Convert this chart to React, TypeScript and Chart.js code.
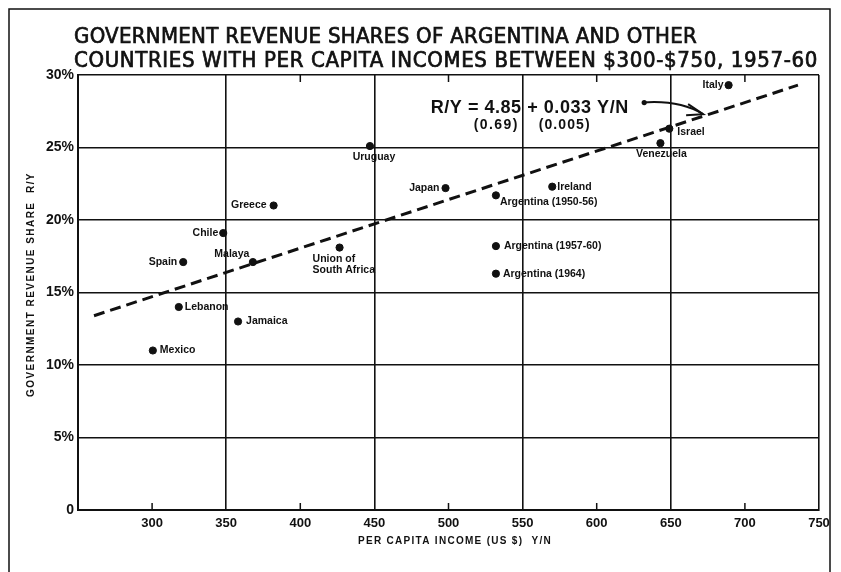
import React, { useEffect, useRef } from "react";
import { Chart, registerables } from "chart.js";

Chart.register(...registerables);

// ---- data ----
const countries = [
  "Mexico", "Spain", "Lebanon", "Chile", "Jamaica", "Malaya", "Greece",
  "Union of\nSouth Africa", "Uruguay", "Japan", "Argentina (1950-56)",
  "Argentina (1957-60)", "Argentina (1964)", "Ireland", "Venezuela", "Israel", "Italy",
];
const incomes = [300.5, 321, 318, 348, 358, 368, 382, 426.5, 447, 498, 532, 532, 532, 570, 643, 649, 689];
const shares = [11.0, 17.1, 14.0, 19.1, 13.0, 17.1, 21.0, 18.1, 25.1, 22.2, 21.7, 18.2, 16.3, 22.3, 25.3, 26.3, 29.3];

// regression line end points (as drawn)
const fitX = [260.8, 735.8];
const fitY = [13.4, 29.3];

const xTickValues = [300, 350, 400, 450, 500, 550, 600, 650, 700, 750];
const xGridValues = [350, 450, 550, 650, 750];
const xMinorTop = [400, 500, 600, 700];
const xMinorBottom = [300, 400, 500, 600, 700];
const yTickLabels: Record<number, string> = { 0: "0", 5: "5%", 10: "10%", 15: "15%", 20: "20%", 25: "25%", 30: "30%" };

const titleLines = [
  "GOVERNMENT REVENUE SHARES OF ARGENTINA AND OTHER",
  "COUNTRIES WITH PER CAPITA INCOMES BETWEEN $300-$750, 1957-60",
];
const xTitle = "PER CAPITA INCOME (US $)  Y/N";
const yTitle = "GOVERNMENT REVENUE SHARE  R/Y";
const equation = "R/Y = 4.85 + 0.033 Y/N";
const stdErrors = ["(0.69)", "(0.005)"];

// ---- label placement (style, pixels relative to the point) ----
const labelPlacement: [number, number, CanvasTextAlign][] = [
  [7, 0, "left"], // Mexico
  [-6, 0, "right"], // Spain
  [6, 0, "left"], // Lebanon
  [-5, 0, "right"], // Chile
  [8, 0, "left"], // Jamaica
  [-21, -8, "center"], // Malaya
  [-7, 0, "right"], // Greece
  [-27, 12, "left"], // Union of South Africa
  [4, 11, "center"], // Uruguay
  [-6, 0, "right"], // Japan
  [4, 7, "left"], // Argentina 1950-56
  [8, 0, "left"], // Argentina 1957-60
  [7, 0, "left"], // Argentina 1964
  [5, 0, "left"], // Ireland
  [1, 11, "center"], // Venezuela
  [8, 3, "left"], // Israel
  [-5, 0, "right"], // Italy
];

const FONT = '"Liberation Sans", Arial, sans-serif';
const TITLE_FONT = '"DejaVu Sans Condensed", "Liberation Sans Narrow", "Liberation Sans", sans-serif';

function fitText(ctx: CanvasRenderingContext2D, text: string, x: number, y: number, width: number, stroke = 0) {
  ctx.letterSpacing = "0px";
  const w = ctx.measureText(text).width;
  const ls = (width - w) / text.length;
  ctx.letterSpacing = ls + "px";
  ctx.textAlign = "left";
  ctx.fillText(text, x, y);
  if (stroke > 0) {
    ctx.lineWidth = stroke;
    ctx.strokeText(text, x, y);
  }
  ctx.letterSpacing = "0px";
}

const decorPlugin = {
  id: "decor",
  afterDraw(chart: any) {
    const ctx: CanvasRenderingContext2D = chart.ctx;
    const xs = chart.scales.x;
    const ys = chart.scales.y;
    const ca = chart.chartArea;
    ctx.save();
    ctx.fillStyle = "#111";
    ctx.strokeStyle = "#111";

    // outer frame
    ctx.lineWidth = 1.5;
    ctx.beginPath();
    ctx.moveTo(9, 572);
    ctx.lineTo(9, 9);
    ctx.lineTo(830, 9);
    ctx.lineTo(830, 572);
    ctx.stroke();

    // title
    ctx.textBaseline = "alphabetic";
    ctx.font = `22px ${TITLE_FONT}`;
    fitText(ctx, titleLines[0], 74, 43, 623, 0.7);
    fitText(ctx, titleLines[1], 74, 67, 744, 0.7);

    // axis titles
    ctx.font = `bold 10px ${FONT}`;
    ctx.textBaseline = "middle";
    fitText(ctx, xTitle, 358, 541, 194);
    ctx.save();
    ctx.translate(31, 285);
    ctx.rotate(-Math.PI / 2);
    fitText(ctx, yTitle, -112, 0, 225);
    ctx.restore();

    // inward minor tick marks
    ctx.lineWidth = 1.5;
    ctx.beginPath();
    xMinorTop.forEach((v) => {
      const px = xs.getPixelForValue(v);
      ctx.moveTo(px, ca.top);
      ctx.lineTo(px, ca.top + 7);
    });
    xMinorBottom.forEach((v) => {
      const px = xs.getPixelForValue(v);
      ctx.moveTo(px, ca.bottom);
      ctx.lineTo(px, ca.bottom - 7);
    });
    ctx.stroke();

    // point labels
    ctx.font = `bold 10.5px ${FONT}`;
    ctx.textBaseline = "middle";
    countries.forEach((name, i) => {
      const px = xs.getPixelForValue(incomes[i]);
      const py = ys.getPixelForValue(shares[i]);
      const [dx, dy, align] = labelPlacement[i];
      ctx.textAlign = align;
      name.split("\n").forEach((line, j) => {
        ctx.fillText(line, px + dx, py + dy + j * 11);
      });
    });

    // regression equation
    const ex = xs.getPixelForValue(488);
    const ey = ys.getPixelForValue(27.4);
    ctx.textBaseline = "alphabetic";
    ctx.textAlign = "left";
    ctx.font = `bold 18px ${FONT}`;
    fitText(ctx, equation, ex, ey, 198);
    ctx.font = `bold 14px ${FONT}`;
    fitText(ctx, stdErrors[0], ex + 43, ey + 16, 45);
    fitText(ctx, stdErrors[1], ex + 108, ey + 16, 52);

    // arrow
    const ax0 = xs.getPixelForValue(630.7);
    const ay0 = ys.getPixelForValue(28.1);
    const ax1 = xs.getPixelForValue(671.8);
    const ay1 = ys.getPixelForValue(27.3);
    ctx.lineWidth = 2;
    ctx.beginPath();
    ctx.arc(ax0 + 2, ay0, 2.6, 0, Math.PI * 2);
    ctx.fill();
    ctx.beginPath();
    ctx.moveTo(ax0, ay0);
    ctx.bezierCurveTo(ax0 + 25, ay0 - 2, ax0 + 45, ay0 + 2, ax1, ay1);
    ctx.stroke();
    ctx.beginPath();
    ctx.moveTo(ax1 - 15, ay1 - 10);
    ctx.lineTo(ax1, ay1);
    ctx.lineTo(ax1 - 17, ay1 + 1);
    ctx.stroke();

    ctx.restore();
  },
};

export default function App() {
  const ref = useRef<HTMLCanvasElement | null>(null);
  useEffect(() => {
    if (!ref.current) return;
    const points = incomes.map((x, i) => ({ x, y: shares[i] }));
    const fit = fitX.map((x, i) => ({ x, y: fitY[i] }));
    const chart = new Chart(ref.current, {
      type: "scatter",
      data: {
        datasets: [
          {
            type: "line",
            data: fit,
            borderColor: "#111",
            borderWidth: 3,
            borderDash: [11, 6],
            pointRadius: 0,
            fill: false,
          } as any,
          {
            data: points,
            backgroundColor: "#111",
            borderColor: "#111",
            pointRadius: 3.6,
          },
        ],
      },
      options: {
        responsive: false,
        animation: false,
        layout: { padding: { top: 75, right: 22, left: 0, bottom: 0 } },
        plugins: { legend: { display: false }, tooltip: { enabled: false }, title: { display: false } },
        scales: {
          x: {
            type: "linear",
            min: 250,
            max: 750,
            afterFit: (s: any) => { s.height = 62; },
            afterBuildTicks: (s: any) => { s.ticks = xTickValues.map((v) => ({ value: v })); },
            ticks: {
              color: "#111",
              padding: 6,
              maxRotation: 0,
              font: { family: FONT, size: 13, weight: "bold" },
              callback: (v: any) => String(v),
            },
            grid: {
              drawTicks: false,
              lineWidth: 1.6,
              color: (c: any) => (xGridValues.includes(c.tick?.value) ? "#111" : "rgba(0,0,0,0)"),
            },
            border: { display: true, color: "#111", width: 2 },
          },
          y: {
            type: "linear",
            min: 0,
            max: 30,
            afterFit: (s: any) => { s.width = 78; },
            ticks: {
              stepSize: 5,
              color: "#111",
              padding: 4,
              font: { family: FONT, size: 14, weight: "bold" },
              callback: (v: any) => yTickLabels[v as number] ?? "",
            },
            grid: { drawTicks: false, lineWidth: 1.6, color: "#111" },
            border: { display: true, color: "#111", width: 2 },
          },
        },
      },
      plugins: [decorPlugin],
    });
    return () => chart.destroy();
  }, []);
  return (
    <div style={{ position: "absolute", left: 0, top: 0, width: 841, height: 572, background: "#fff" }}>
      <canvas ref={ref} width={841} height={572} style={{ display: "block" }} />
    </div>
  );
}
